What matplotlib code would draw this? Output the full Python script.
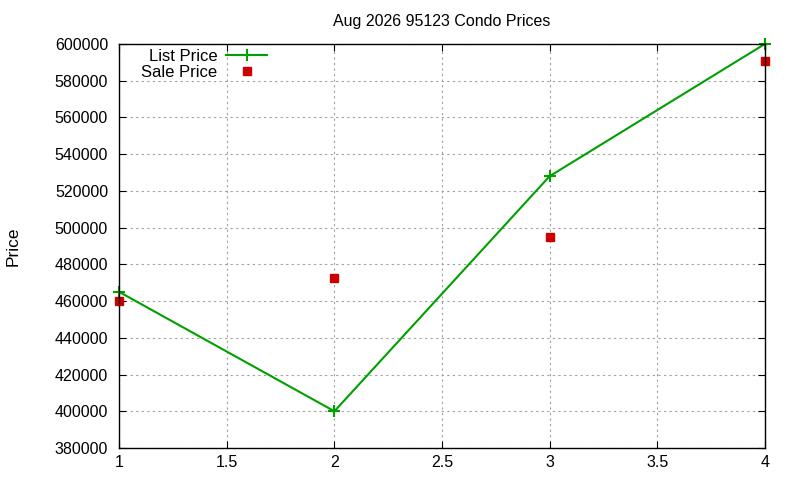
import matplotlib
matplotlib.use("Agg")
import matplotlib.pyplot as plt

# Condo prices by period
x = [1, 2, 3, 4]
list_price = [465000, 400000, 528000, 600000]
sale_price = [460000, 472500, 495000, 591000]

plt.rcParams['font.family'] = ['Liberation Sans', 'DejaVu Sans']
plt.rcParams['font.size'] = 11.5

fig = plt.figure(figsize=(8, 4.8), dpi=100)
ax = fig.add_axes([0.149, 0.0667, 0.807, 0.8416])

ax.plot(x, list_price, color='#00a000', linewidth=1.5, marker='+',
        markersize=8, markeredgewidth=1.5, label='List Price', clip_on=False)
ax.plot(x, sale_price, linestyle='none', color='#cc0000', marker='s',
        markersize=6, label='Sale Price', clip_on=False)

ax.set_xlim(1, 4)
ax.set_ylim(380000, 600000)
ax.set_xticks([1, 1.5, 2, 2.5, 3, 3.5, 4])
ax.set_xticklabels(['1', '1.5', '2', '2.5', '3', '3.5', '4'])
ax.set_yticks(range(380000, 600001, 20000))
ax.grid(True, color='#a0a0a0', linestyle=(0, (2, 3)), linewidth=0.8)
ax.tick_params(direction='in', length=5, top=True, right=True, labelsize=11.5)
ax.tick_params(axis='y', pad=8)
ax.tick_params(axis='x', pad=5)
for s in ax.spines.values():
    s.set_linewidth(1.0)

ax.set_title('Aug 2026 95123 Condo Prices', fontsize=11.5, pad=13)
ax.set_ylabel('Price', fontsize=12.5)
ax.yaxis.set_label_coords(-0.152, 0.5)

ax.legend(loc='upper left', bbox_to_anchor=(0.011, 1.025), frameon=False,
          markerfirst=False, handlelength=2.5, handletextpad=0.5,
          labelspacing=0.05, fontsize=12)

fig.savefig('out.png', dpi=100)
